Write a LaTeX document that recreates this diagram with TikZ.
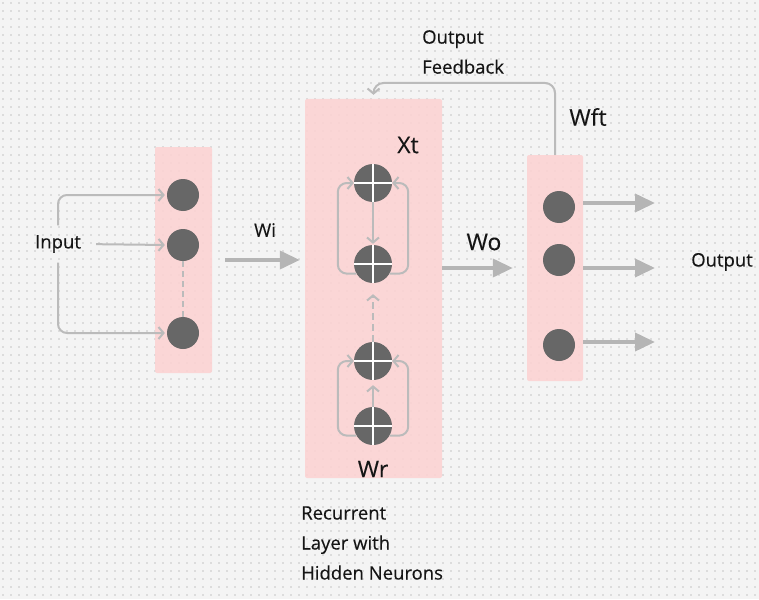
\documentclass[tikz,border=0pt]{standalone}
\usepackage{fontspec}
\setmainfont{Open Sans}[FakeBold=0.25]
\usetikzlibrary{arrows.meta}
\definecolor{bgc}{HTML}{F4F4F4}
\definecolor{dotc}{HTML}{DCDCDC}
\definecolor{pinkc}{HTML}{FCD3D3}
\definecolor{neuc}{HTML}{676767}
\definecolor{linec}{HTML}{BBBBBB}
\definecolor{bigc}{HTML}{B5B5B5}
\definecolor{txtc}{HTML}{151515}
\tikzset{
  layer/.style={fill=pinkc, fill opacity=0.9, rounded corners=2pt, inner sep=0pt},
  neuron/.style={circle, fill=neuc, minimum size=32pt, inner sep=0pt},
  hneuron/.style={circle, fill=neuc, minimum size=38pt, inner sep=0pt,
    path picture={\draw[white, line width=1.8pt]
      (path picture bounding box.north) -- (path picture bounding box.south)
      (path picture bounding box.west) -- (path picture bounding box.east);}},
  conn/.style={draw=linec, line width=2pt, -{Straight Barb[length=5pt,width=12pt]}},
  big/.style={draw=bigc, line width=3.8pt, -{Triangle[length=20pt,width=18pt]}},
  lbl/.style={text=txtc, font=\fontsize{18.5}{30}\selectfont, inner sep=0pt},
  biglbl/.style={text=txtc, font=\fontsize{23}{28}\selectfont, inner sep=0pt},
}
\begin{document}
\begin{tikzpicture}[x=1pt,y=-1pt]
\useasboundingbox (0,0) rectangle (759,599);
\fill[bgc] (0,0) rectangle (759,599);
\foreach \y in {3,11,...,599}
  \draw[dotc, line width=1.3pt, dash pattern=on 1.3pt off 6.7pt] (2.35,\y) -- (759,\y);

% layers
\node[layer, minimum width=57pt, minimum height=226pt] (inL) at (183.5,260) {};
\node[layer, minimum width=137pt, minimum height=379pt] (recL) at (373.5,288.5) {};
\node[layer, minimum width=56pt, minimum height=226pt] (outL) at (555,268) {};

% input neurons
\node[neuron] (i1) at (183,195) {};
\node[neuron] (i2) at (183,245) {};
\node[neuron] (i3) at (183,333) {};

% hidden neurons
\node[hneuron] (h1) at (373,183) {};
\node[hneuron] (h2) at (373,264) {};
\node[hneuron] (h3) at (373,361) {};
\node[hneuron] (h4) at (373,426) {};

% output neurons
\node[neuron] (o1) at (559,207) {};
\node[neuron] (o2) at (559,260) {};
\node[neuron] (o3) at (559,345) {};

% labels
\node[lbl, minimum height=37pt] (inp) at (58,244) {Input};
\node[lbl] (wi) at (265,230) {Wi};
\node[biglbl] (xt) at (408,145) {Xt};
\node[biglbl] (wr) at (373,469) {Wr};
\node[biglbl] (wo) at (484,242) {Wo};
\node[biglbl] (wft) at (588,117) {Wft};
\node[lbl] (outp) at (722,262) {Output};
\node[lbl, align=left, anchor=west] (fbl) at (422,52) {Output\\Feedback};
\node[lbl, align=left, anchor=west] (recl) at (301,543) {Recurrent\\Layer with\\Hidden Neurons};

% input connectors
\draw[conn, rounded corners=9pt, shorten >=2pt] (inp.north) |- (i1.west);
\draw[conn, shorten <=15pt, shorten >=2pt] (inp.east) -- (i2.west);
\draw[conn, rounded corners=9pt, shorten >=2pt] (inp.south) |- (i3.west);
\draw[draw=linec, line width=2pt, dash pattern=on 6pt off 4pt] (i2.south) -- (i3.north);

% hidden loops
\draw[conn, rounded corners=9pt] (h2.210) -| ([xshift=-16pt]h1.west) -- (h1.west);
\draw[conn, rounded corners=9pt] (h2.330) -| ([xshift=16pt]h1.east) -- (h1.east);
\draw[conn, rounded corners=9pt] (h4.210) -| ([xshift=-16pt]h3.west) -- (h3.west);
\draw[conn, rounded corners=9pt] (h4.330) -| ([xshift=16pt]h3.east) -- (h3.east);
\draw[conn, shorten >=1pt] (h1.south) -- (h2.north);
\draw[conn, shorten >=11pt, dash pattern=on 7pt off 4pt] (h3.north) -- (h2.south);
\draw[conn, shorten >=5pt] (h4.north) -- (h3.south);

% big arrows
\draw[big, shorten <=13pt, shorten >=5pt] (inL.east) -- (recL.west |- inL.east);
\draw[big, shorten >=14pt] (recL.east |- outL.west) -- (outL.west);
\coordinate (e1) at (655,203);
\coordinate (e2) at (655,268);
\coordinate (e3) at (655,342);
\draw[big] (outL.east |- e1) -- (e1);
\draw[big] (outL.east |- e2) -- (e2);
\draw[big] (outL.east |- e3) -- (e3);

% feedback
\coordinate (fb) at (373.5,83);
\draw[conn, rounded corners=10pt, shorten >=4pt] (outL.north) |- (fb) -- (recL.north);
\end{tikzpicture}
\end{document}
